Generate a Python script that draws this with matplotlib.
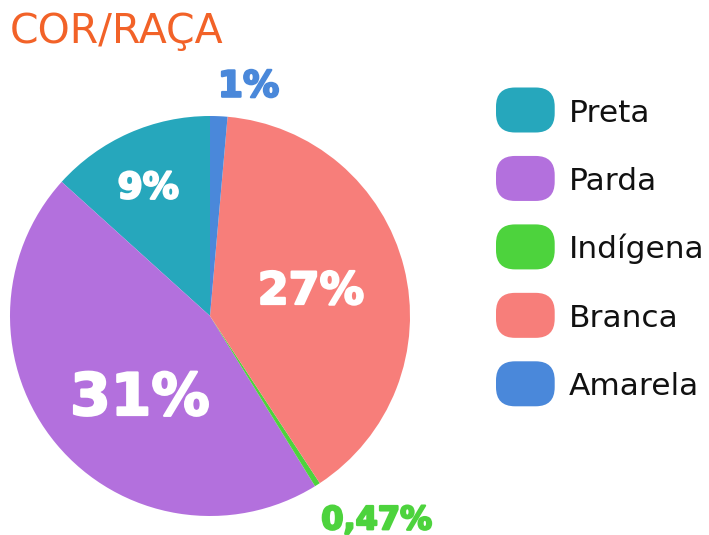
import matplotlib
matplotlib.use("Agg")
import matplotlib.pyplot as plt
import matplotlib.patheffects as pe
from matplotlib.patches import FancyBboxPatch
from matplotlib.transforms import IdentityTransform

# ---- data ----
categories = ["Preta", "Parda", "Indígena", "Branca", "Amarela"]
shares = [13.3, 45.5, 0.45, 39.35, 1.4]          # wedge sizes
value_labels = ["9%", "31%", "0,47%", "27%", "1%"]
title_text = "COR/RAÇA"

# ---- styles ----
colors = ["#26A7BC", "#B370DD", "#4DD33D", "#F77E7A", "#4A88DA"]
label_colors = ["white", "white", "#4DD33D", "white", "#4A88DA"]
label_sizes = [26, 42, 23, 32, 26]
# label anchor (center-x, baseline-y) in pie data units (radius = 1)
label_xy = [(-0.3085, 0.5885), (-0.35, -0.495), (0.8335, -1.0665),
            (0.505, 0.06), (0.1925, 1.0965)]

W, H = 709, 535
fig = plt.figure(figsize=(W / 100, H / 100), dpi=100)
fig.patch.set_facecolor("white")

# pie axes: center (210, 316) px from top, radius 200 px
cx, cy, r = 210, 316, 200
ax = fig.add_axes([(cx - r) / W, (H - cy - r) / H, 2 * r / W, 2 * r / H])
ax.pie(shares, colors=colors, startangle=90, counterclock=True,
       radius=1, wedgeprops=dict(linewidth=0))
ax.set_xlim(-1, 1)
ax.set_ylim(-1, 1)
ax.set_aspect("equal")
ax.axis("off")

for lab, (x, y), c, s in zip(value_labels, label_xy, label_colors, label_sizes):
    ax.text(x, y, lab, ha="center", va="baseline", color=c, fontsize=s,
            fontweight="bold", family="DejaVu Sans", clip_on=False,
            path_effects=[pe.Stroke(linewidth=1.6, foreground=c), pe.Normal()])

# title
fig.text(10 / W, 1 - 43 / H, title_text, ha="left", va="baseline",
         color="#F26228", fontsize=29.5, family="DejaVu Sans")

# legend (manual, pixel coordinates)
ident = IdentityTransform()
row_top0 = 110.0
row_step = 68.45
box_w, box_h = 58.7, 45
box_x = 496
for i, (cat, col) in enumerate(zip(categories, colors)):
    yc = row_top0 + i * row_step
    patch = FancyBboxPatch((box_x, H - yc - box_h / 2), box_w, box_h,
                           boxstyle="round,pad=0,rounding_size=19",
                           facecolor=col, edgecolor="none",
                           transform=ident, figure=fig)
    fig.patches.append(patch)
    fig.text(569 / W, 1 - (yc + 11.5) / H, cat, ha="left", va="baseline",
             color="#111111", fontsize=22.5, family="DejaVu Sans")

fig.savefig("out.png", dpi=100, facecolor="white")
